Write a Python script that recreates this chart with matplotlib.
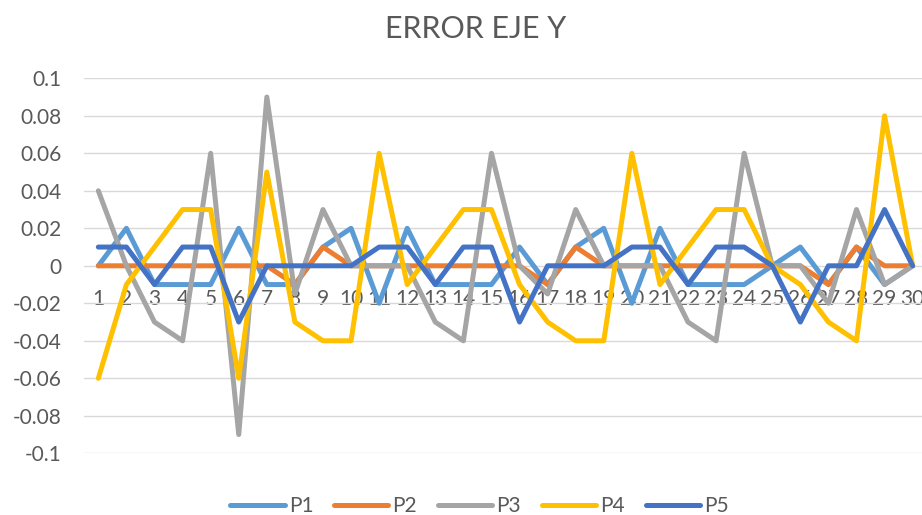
import matplotlib
matplotlib.use("Agg")
import matplotlib.pyplot as plt
from matplotlib.ticker import FuncFormatter

# Measurement index 1..30
points = list(range(1, 31))

p1 = [0, 0.02, -0.01, -0.01, -0.01, 0.02, -0.01, -0.01, 0.01, 0.02,
      -0.02, 0.02, -0.01, -0.01, -0.01, 0.01, -0.01, 0.01, 0.02, -0.02,
      0.02, -0.01, -0.01, -0.01, 0, 0.01, -0.01, 0.01, -0.01, 0]
p2 = [0, 0, 0, 0, 0, 0, 0, -0.01, 0.01, 0,
      0, 0, 0, 0, 0, 0, -0.01, 0.01, 0, 0,
      0, 0, 0, 0, 0, 0, -0.01, 0.01, 0, 0]
p3 = [0.04, 0, -0.03, -0.04, 0.06, -0.09, 0.09, -0.015, 0.03, 0,
      0, 0, -0.03, -0.04, 0.06, 0, -0.015, 0.03, 0, 0,
      0, -0.03, -0.04, 0.06, 0, 0, -0.02, 0.03, -0.01, 0]
p4 = [-0.06, -0.01, 0.01, 0.03, 0.03, -0.06, 0.05, -0.03, -0.04, -0.04,
      0.06, -0.01, 0.01, 0.03, 0.03, -0.01, -0.03, -0.04, -0.04, 0.06,
      -0.01, 0.01, 0.03, 0.03, 0, -0.01, -0.03, -0.04, 0.08, 0]
p5 = [0.01, 0.01, -0.01, 0.01, 0.01, -0.03, 0, 0, 0, 0,
      0.01, 0.01, -0.01, 0.01, 0.01, -0.03, 0, 0, 0, 0.01,
      0.01, -0.01, 0.01, 0.01, 0, -0.03, 0, 0, 0.03, 0]

series = [("P1", p1, "#5B9BD5"), ("P2", p2, "#ED7D31"), ("P3", p3, "#A5A5A5"),
          ("P4", p4, "#FFC000"), ("P5", p5, "#4472C4")]

y_ticks = [0.1, 0.08, 0.06, 0.04, 0.02, 0, -0.02, -0.04, -0.06, -0.08, -0.1]

text_color = "#595959"
plt.rcParams["font.family"] = ["Lato", "DejaVu Sans"]

fig = plt.figure(figsize=(9.22, 5.15), dpi=100)
ax = fig.add_axes([84.3 / 922, 61.7 / 515, 842.4 / 922, 375.0 / 515])

for name, vals, col in series:
    ax.plot(points, vals, color=col, lw=3.6, label=name,
            solid_joinstyle="round", solid_capstyle="round")

ax.set_xlim(0.5, 30.5)
ax.set_ylim(-0.1, 0.1)
ax.set_yticks(y_ticks)
ax.yaxis.set_major_formatter(FuncFormatter(lambda v, _: "0" if abs(v) < 1e-9 else f"{v:g}"))
ax.set_xticks(points)
ax.set_xticklabels([str(p) for p in points])

ax.grid(axis="y", color="#D9D9D9", lw=1.0)
ax.set_axisbelow(True)
for s in ("top", "right", "left"):
    ax.spines[s].set_visible(False)
ax.spines["bottom"].set_position(("data", 0))
ax.spines["bottom"].set_visible(False)

ax.tick_params(axis="y", length=0, pad=16.5, labelsize=15, labelcolor=text_color)
ax.tick_params(axis="x", length=0, pad=16.8, labelsize=15, labelcolor=text_color)

fig.text(0.516, 1 - 29 / 515, "ERROR EJE Y", ha="center", va="center",
         fontsize=22, color=text_color, fontweight="normal")

leg = fig.legend(loc="center", bbox_to_anchor=(0.52, 1 - 506 / 515), ncol=5,
                 frameon=False, fontsize=15, handlelength=2.6, handletextpad=0.2,
                 columnspacing=1.0)
for t in leg.get_texts():
    t.set_color(text_color)

fig.savefig("out.png", dpi=100)
